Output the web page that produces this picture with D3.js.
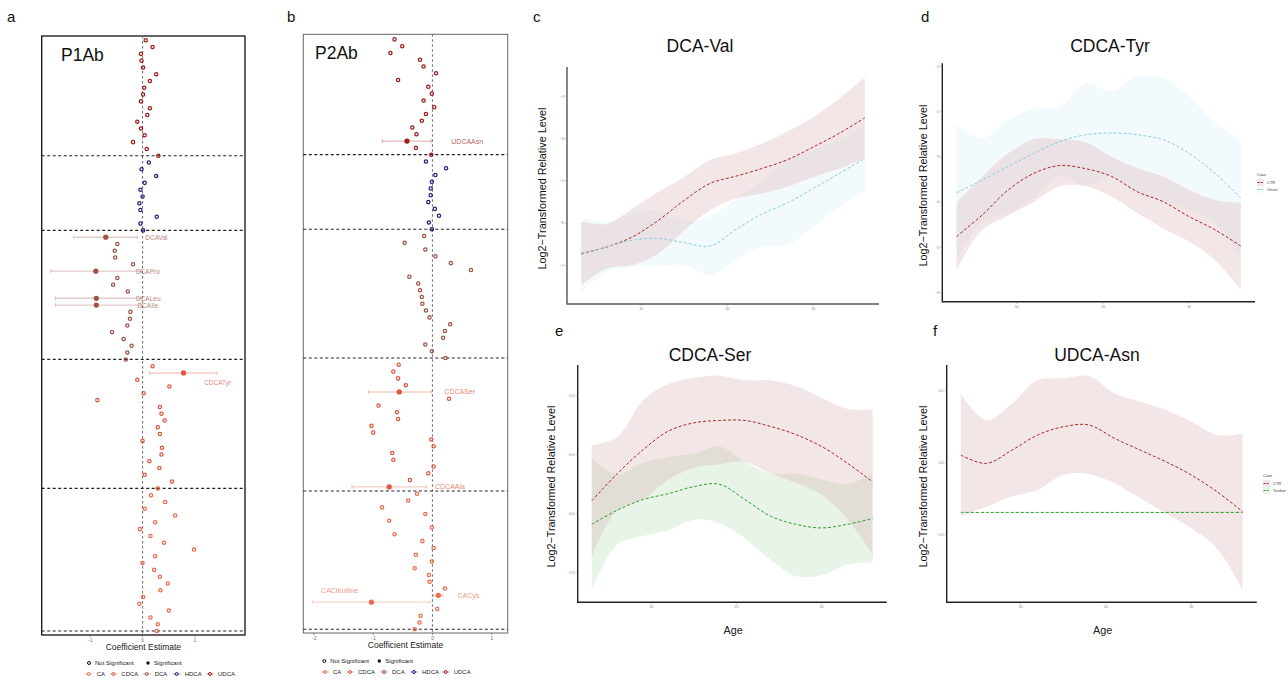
<!DOCTYPE html>
<html>
<head>
<meta charset="utf-8">
<script src="https://cdn.jsdelivr.net/npm/d3@7"></script>
<style>
  body { margin: 0; background: #fff; }
  svg { font-family: "Liberation Sans", Arial, Helvetica, sans-serif; }
</style>
</head>
<body>
<svg id="fig" width="1288" height="682"></svg>
<script>
// ---------- forest data (top to bottom inside each group) ----------
const groupOrder = ["UDCA", "HDCA", "DCA", "CDCA", "CA"];
const legendOrder = ["CA", "CDCA", "DCA", "HDCA", "UDCA"];

const p1UDCA = [0.06, 0.19, -0.03, -0.02, 0.01, 0.26, 0.14, 0.03, 0.01, -0.03, 0.14, 0.09, -0.10, -0.03, 0.04, -0.18, 0.08, 0.30];
const p1HDCA = [0.12, -0.02, 0.26, 0.04, -0.04, 0.0, -0.06, -0.04, 0.27, -0.04, 0.01];
const p1DCA = [-0.70, -0.48, -0.53, -0.52, -0.18, -0.89, -0.48, -0.56, -0.28, -0.88, -0.88, -0.23, -0.24, -0.29, -0.58, -0.36, -0.21, -0.29, -0.32];
const p1CDCA = [0.19, 0.78, -0.10, 0.51, 0.02, -0.86, 0.33, 0.36, 0.42, 0.29, 0.33, 0.0, 0.37, 0.36, 0.13, 0.32, 0.04, 0.56, 0.29];
const p1CA = [0.16, 0.43, 0.04, 0.62, 0.24, -0.05, 0.15, 0.41, 0.98, 0.24, 0.0, 0.22, 0.33, 0.48, 0.34, 0.01, -0.06, 0.50, 0.15, 0.29, 0.27];
const p1Sig = [
  { group: "DCA", idx: 0, name: "DCAVal", lo: -1.31, hi: -0.10 },
  { group: "DCA", idx: 5, name: "DCAPro", lo: -1.75, hi: -0.03 },
  { group: "DCA", idx: 9, name: "DCALeu", lo: -1.66, hi: -0.03 },
  { group: "DCA", idx: 10, name: "DCAIle", lo: -1.66, hi: -0.03 },
  { group: "CDCA", idx: 1, name: "CDCATyr", lo: 0.13, hi: 1.42 },
];
const p1Seps = [1, 22, 41, 60, 71];

const p2UDCA = [-0.64, -0.51, -0.71, -0.21, -0.15, 0.06, -0.58, -0.07, -0.01, -0.15, 0.03, -0.11, -0.18, -0.34, -0.27, -0.43, -0.28, -0.02];
const p2HDCA = [-0.11, 0.23, 0.05, -0.01, -0.03, -0.03, -0.07, 0.04, 0.11, -0.06, -0.01];
const p2DCA = [-0.14, -0.47, -0.12, 0.05, 0.31, 0.65, -0.39, -0.24, -0.21, -0.18, -0.17, -0.11, -0.05, 0.30, 0.21, 0.18, -0.12, -0.01, 0.22];
const p2CDCA = [-0.57, -0.66, -0.58, -0.45, -0.56, 0.28, -0.91, -0.60, -0.58, -1.03, -1.00, -0.02, 0.02, -0.68, -0.66, 0.02, -0.07, -0.38, -0.73];
const p2CA = [-0.26, -0.41, -0.85, -0.12, -0.73, -0.01, -0.64, -0.17, 0.02, -0.28, -0.01, -0.30, -0.06, -0.05, 0.21, 0.10, -1.03, 0.08, -0.20, -0.22, -0.30];
const p2Sig = [
  { group: "UDCA", idx: 15, name: "UDCAAsn", lo: -0.85, hi: -0.02 },
  { group: "CDCA", idx: 4, name: "CDCASer", lo: -1.08, hi: -0.02 },
  { group: "CDCA", idx: 18, name: "CDCAAla", lo: -1.36, hi: -0.10 },
  { group: "CA", idx: 15, name: "CACys", lo: 0.02, hi: 0.17 },
  { group: "CA", idx: 16, name: "CACitrulline", lo: -2.02, hi: -0.04 },
];
const p2Seps = [1, 21.4, 41, 60, 71];

// ---------- smooth curves (age vs log2 level) ----------
const ages = [3, 6, 9, 12, 15, 18, 21, 24, 27, 30, 33, 36];

const valCtr = [-6.72, -6.56, -6.32, -5.93, -5.46, -5.06, -4.89, -4.71, -4.50, -4.20, -3.88, -3.51];
const valCtrLo = [-7.46, -7.07, -6.99, -6.72, -6.17, -5.69, -5.42, -5.30, -5.14, -4.91, -4.71, -4.47];
const valCtrHi = [-5.96, -6.02, -5.65, -5.26, -4.91, -4.51, -4.35, -4.12, -3.84, -3.49, -3.06, -2.56];
const valCase = [-6.74, -6.56, -6.40, -6.36, -6.46, -6.54, -6.15, -5.79, -5.52, -5.18, -4.83, -4.47];
const valCaseLo = [-7.62, -7.15, -7.03, -7.02, -6.99, -7.23, -6.87, -6.56, -6.52, -6.09, -5.61, -5.26];
const valCaseHi = [-5.86, -5.97, -5.77, -5.71, -5.94, -5.84, -5.43, -5.02, -4.52, -4.28, -4.04, -3.69];

const tyrCtr = [-4.76, -4.28, -3.73, -3.36, -3.19, -3.26, -3.43, -3.77, -3.99, -4.32, -4.61, -4.97];
const tyrCtrLo = [-5.50, -4.61, -4.30, -3.99, -3.65, -3.65, -3.88, -4.24, -4.58, -4.87, -5.28, -5.94];
const tyrCtrHi = [-4.01, -3.43, -2.92, -2.61, -2.61, -2.68, -2.99, -3.25, -3.43, -3.73, -3.95, -4.01];
const tyrCase = [-3.79, -3.51, -3.21, -2.92, -2.66, -2.51, -2.47, -2.51, -2.62, -2.92, -3.36, -3.91];
const tyrCaseLo = [-5.28, -4.43, -4.24, -3.89, -3.42, -3.65, -3.40, -3.80, -3.99, -4.17, -4.47, -5.20];
const tyrCaseHi = [-2.29, -2.59, -2.18, -1.94, -1.90, -1.37, -1.55, -1.22, -1.26, -1.66, -2.25, -2.62];

const serCtr = [-6.39, -6.16, -5.96, -5.80, -5.73, -5.71, -5.71, -5.76, -5.83, -5.93, -6.07, -6.23];
const serCtrLo = [-6.86, -6.47, -6.38, -6.21, -6.11, -6.08, -6.06, -6.16, -6.24, -6.34, -6.54, -6.85];
const serCtrHi = [-5.92, -5.85, -5.54, -5.40, -5.35, -5.33, -5.37, -5.37, -5.42, -5.52, -5.61, -5.62];
const serCase = [-6.59, -6.47, -6.38, -6.33, -6.27, -6.25, -6.38, -6.52, -6.59, -6.62, -6.59, -6.54];
const serCaseLo = [-7.15, -6.76, -6.69, -6.64, -6.55, -6.58, -6.71, -6.89, -7.03, -7.02, -6.93, -6.91];
const serCaseHi = [-6.03, -6.17, -6.07, -6.02, -5.99, -5.93, -6.06, -6.16, -6.16, -6.21, -6.25, -6.16];

const asnCtr = [0.053, -0.005, 0.087, 0.191, 0.248, 0.260, 0.168, 0.087, 0.007, -0.085, -0.200, -0.338];
const asnCtrLo = [-0.368, -0.303, -0.234, -0.188, -0.085, -0.078, -0.143, -0.246, -0.349, -0.453, -0.591, -0.878];
const asnCtrHi = [0.474, 0.294, 0.409, 0.570, 0.582, 0.598, 0.478, 0.421, 0.363, 0.283, 0.191, 0.202];
const asnCase = [-0.343, -0.343, -0.343, -0.343, -0.343, -0.343, -0.343, -0.343, -0.343, -0.343, -0.343, -0.343];
const asnCaseLo = [-0.347, -0.347, -0.347, -0.347, -0.347, -0.347, -0.347, -0.347, -0.347, -0.347, -0.347, -0.347];
const asnCaseHi = [-0.339, -0.339, -0.339, -0.339, -0.339, -0.339, -0.339, -0.339, -0.339, -0.339, -0.339, -0.339];

// ---------- styles ----------
const groupColors = {
  CA: "#ee6a50",
  CDCA: "#de5740",
  DCA: "#9c5448",
  HDCA: "#23237e",
  UDCA: "#a01a1a",
};
const ctrLine = "#a52a2a";
const ctrFill = "#d4a5a5";

const svg = d3.select("#fig");

function panelLetter(t, x, y) {
  svg.append("text").attr("x", x).attr("y", y).attr("font-size", 15).attr("fill", "#111").text(t);
}

// label offsets (px) from the right end of the CI bar
const labelNudge = {
  DCAVal: [8, 2.5], DCAPro: [-5, 2.5], DCALeu: [-5, 2.5], DCAIle: [-3.5, 2.5], CDCATyr: [-13, 12.5],
  UDCAAsn: [20, 2.5], CDCASer: [13, 2.5], CDCAAla: [8.5, 2.5], CACys: [15, 2.5], CACitrulline: [-109, -9.5],
};

function drawForest(cfg) {
  const x = d3.scaleLinear().domain(cfg.xDomain).range([cfg.x0, cfg.x1]);
  const y = d3.scaleLinear().domain(cfg.yDomain).range([cfg.y1, cfg.y0]);
  const total = groupOrder.reduce((s, g) => s + cfg.data[g].length, 0);
  const rows = [];
  let k = total;
  groupOrder.forEach((g) => cfg.data[g].forEach((v, i) => rows.push({ group: g, idx: i, est: v, k: k-- })));
  const sigKey = new Map(cfg.sig.map((s) => [s.group + ":" + s.idx, s]));
  rows.forEach((r) => (r.sig = sigKey.get(r.group + ":" + r.idx) || null));

  const g = svg.append("g");
  g.append("rect")
    .attr("x", cfg.x0).attr("y", cfg.y0)
    .attr("width", cfg.x1 - cfg.x0).attr("height", cfg.y1 - cfg.y0)
    .attr("fill", "none").attr("stroke", cfg.boxColor).attr("stroke-width", cfg.boxWidth);

  // zero line
  g.append("line")
    .attr("x1", x(0)).attr("x2", x(0)).attr("y1", cfg.y0).attr("y2", cfg.y1)
    .attr("stroke", "#777").attr("stroke-width", 1.1).attr("stroke-dasharray", "2.5,2.5");

  // group separators
  g.selectAll("line.sep").data(cfg.seps).enter().append("line")
    .attr("x1", cfg.x0).attr("x2", cfg.x1)
    .attr("y1", (d) => y(d)).attr("y2", (d) => y(d))
    .attr("stroke", "#222").attr("stroke-width", 1.1).attr("stroke-dasharray", "3,2.5");

  // CI bars
  const sigRows = rows.filter((r) => r.sig);
  sigRows.forEach((r) => {
    const c = groupColors[r.group];
    const yy = y(r.k);
    g.append("line").attr("x1", x(r.sig.lo)).attr("x2", x(r.sig.hi)).attr("y1", yy).attr("y2", yy)
      .attr("stroke", c).attr("stroke-opacity", 0.3).attr("stroke-width", 1.4);
    [r.sig.lo, r.sig.hi].forEach((v) =>
      g.append("line").attr("x1", x(v)).attr("x2", x(v)).attr("y1", yy - 2).attr("y2", yy + 2)
        .attr("stroke", c).attr("stroke-opacity", 0.35).attr("stroke-width", 0.9));
  });

  // points
  rows.forEach((r) => {
    const c = groupColors[r.group];
    g.append("circle").attr("cx", x(r.est)).attr("cy", y(r.k))
      .attr("r", r.sig ? 2 : 1.65)
      .attr("fill", r.sig ? c : "none")
      .attr("stroke", c).attr("stroke-width", 1.25);
  });

  // labels
  sigRows.forEach((r) => {
    const nd = labelNudge[r.sig.name];
    g.append("text").attr("x", x(r.sig.hi) + nd[0]).attr("y", y(r.k) + nd[1])
      .attr("font-size", cfg.labelSize).attr("fill", groupColors[r.group]).attr("fill-opacity", 0.75)
      .text(r.sig.name);
  });

  // axis ticks
  cfg.xTicks.forEach((t) => {
    g.append("line").attr("x1", x(t)).attr("x2", x(t)).attr("y1", cfg.y1).attr("y2", cfg.y1 + 2)
      .attr("stroke", "#555").attr("stroke-width", 0.6);
    g.append("text").attr("x", x(t)).attr("y", cfg.y1 + 7).attr("text-anchor", "middle")
      .attr("font-size", 4.5).attr("fill", "#666").text(d3.format("d")(t).replace("-", "\u2212"));
  });
  const mid = (cfg.x0 + cfg.x1) / 2;
  g.append("text").attr("x", mid).attr("y", cfg.y1 + 15).attr("text-anchor", "middle")
    .attr("font-size", 8.5).attr("fill", "#222").text("Coefficient Estimate");

  g.append("text").attr("x", cfg.titleX).attr("y", cfg.y0 + 25).attr("font-size", 17.5).attr("fill", "#111").text(cfg.title);

  // legend
  const ly1 = cfg.y1 + 30, ly2 = cfg.y1 + 41;
  const lg = g.append("g").attr("font-size", 6).attr("fill", "#222");
  lg.append("circle").attr("cx", cfg.leg1[0]).attr("cy", ly1 - 2).attr("r", 1.5).attr("fill", "none").attr("stroke", "#111").attr("stroke-width", 1);
  lg.append("text").attr("x", cfg.leg1[0] + 6).attr("y", ly1).text("Not Significant");
  lg.append("circle").attr("cx", cfg.leg1[1]).attr("cy", ly1 - 2).attr("r", 1.7).attr("fill", "#111");
  lg.append("text").attr("x", cfg.leg1[1] + 6).attr("y", ly1).text("Significant");
  legendOrder.forEach((name, i) => {
    const cx = cfg.leg2[i];
    const c = groupColors[name];
    lg.append("line").attr("x1", cx - 4).attr("x2", cx + 4).attr("y1", ly2 - 2).attr("y2", ly2 - 2)
      .attr("stroke", c).attr("stroke-opacity", 0.45).attr("stroke-width", 1);
    lg.append("circle").attr("cx", cx).attr("cy", ly2 - 2).attr("r", 1.5).attr("fill", "none").attr("stroke", c).attr("stroke-width", 1);
    lg.append("text").attr("x", cx + 8).attr("y", ly2).text(name);
  });
}

drawForest({
  x0: 41.7, x1: 245, y0: 36, y1: 635,
  xDomain: [-1.92, 1.95], yDomain: [0.41, 88.63],
  data: { UDCA: p1UDCA, HDCA: p1HDCA, DCA: p1DCA, CDCA: p1CDCA, CA: p1CA },
  sig: p1Sig, seps: p1Seps, xTicks: [-1, 0, 1],
  title: "P1Ab", titleX: 61, boxColor: "#111", boxWidth: 1.3, labelSize: 6.5,
  leg1: [89, 148], leg2: [88.7, 113.3, 146.7, 176.7, 210],
});

drawForest({
  x0: 303.3, x1: 507.7, y0: 34.3, y1: 633,
  xDomain: [-2.18, 1.27], yDomain: [0.45, 88.75],
  data: { UDCA: p2UDCA, HDCA: p2HDCA, DCA: p2DCA, CDCA: p2CDCA, CA: p2CA },
  sig: p2Sig, seps: p2Seps, xTicks: [-2, -1, 0, 1],
  title: "P2Ab", titleX: 315, boxColor: "#666", boxWidth: 1, labelSize: 7,
  leg1: [324.3, 379.3], leg2: [325, 350, 384, 414, 445.7],
});

panelLetter("a", 7, 22);
panelLetter("b", 287, 22);

// ---------- smooth panels ----------
function drawSmooth(cfg) {
  const x = d3.scaleLinear().domain([1.35, 37.65]).range([cfg.x0, cfg.x1]);
  const y = d3.scaleLinear().domain(cfg.yDomain).range([cfg.y1, cfg.y0]);
  const g = svg.append("g");
  const curve = d3.curveCatmullRom.alpha(0.5);

  const band = (lo, hi) => d3.area().curve(curve)
    .x((d, i) => x(ages[i])).y0((d, i) => y(lo[i])).y1((d, i) => y(hi[i]))(ages);
  const line = (v) => d3.line().curve(curve).x((d, i) => x(ages[i])).y((d, i) => y(v[i]))(ages);

  g.append("path").attr("d", band(cfg.caseLo, cfg.caseHi)).attr("fill", cfg.caseFill).attr("fill-opacity", cfg.caseAlpha);
  g.append("path").attr("d", band(cfg.ctrLo, cfg.ctrHi)).attr("fill", ctrFill).attr("fill-opacity", 0.28);
  g.append("path").attr("d", line(cfg.ctr)).attr("fill", "none").attr("stroke", ctrLine)
    .attr("stroke-width", 1).attr("stroke-dasharray", "3,2");
  g.append("path").attr("d", line(cfg.case)).attr("fill", "none").attr("stroke", cfg.caseColor)
    .attr("stroke-width", 1).attr("stroke-dasharray", "3,2");

  // axes
  g.append("path").attr("d", `M${cfg.x0},${cfg.y0}V${cfg.y1}H${cfg.x1}`)
    .attr("fill", "none").attr("stroke", cfg.axisColor).attr("stroke-width", 1.4);
  cfg.yTicks.forEach((t) => {
    g.append("line").attr("x1", cfg.x0 - 2).attr("x2", cfg.x0).attr("y1", y(t)).attr("y2", y(t)).attr("stroke", "#777").attr("stroke-width", 0.5);
    g.append("text").attr("x", cfg.x0 - 3).attr("y", y(t) + 1.3).attr("text-anchor", "end")
      .attr("font-size", 3.8).attr("fill", "#888").text(cfg.yFmt(t));
  });
  [10, 20, 30].forEach((t) => {
    g.append("line").attr("x1", x(t)).attr("x2", x(t)).attr("y1", cfg.y1).attr("y2", cfg.y1 + 2).attr("stroke", "#777").attr("stroke-width", 0.5);
    g.append("text").attr("x", x(t)).attr("y", cfg.y1 + 6).attr("text-anchor", "middle")
      .attr("font-size", 3.8).attr("fill", "#888").text(t);
  });

  g.append("text").attr("x", cfg.titleX).attr("y", cfg.titleY).attr("text-anchor", "middle")
    .attr("font-size", 17.5).attr("fill", "#111").text(cfg.title);
  g.append("text")
    .attr("transform", `translate(${cfg.ylabX},${(cfg.y0 + cfg.y1) / 2 + 3}) rotate(-90)`)
    .attr("text-anchor", "middle").attr("font-size", 10.8).attr("fill", "#111")
    .text("Log2\u2212Transformed Relative Level");
  if (cfg.xlab) {
    g.append("text").attr("x", (cfg.x0 + cfg.x1) / 2 + 1).attr("y", cfg.y1 + 32).attr("text-anchor", "middle")
      .attr("font-size", 10.8).attr("fill", "#222").text("Age");
  }
  if (cfg.legend) {
    const lx = cfg.legend.x, ly = cfg.legend.y;
    const lg = g.append("g").attr("font-size", 4).attr("fill", "#444");
    lg.append("text").attr("x", lx).attr("y", ly).text("Case");
    [["CTR", ctrFill, 0.28, ctrLine], [cfg.legend.caseName, cfg.caseFill, cfg.caseAlpha, cfg.caseColor]].forEach((it, i) => {
      const yy = ly + 3 + i * 7;
      lg.append("rect").attr("x", lx).attr("y", yy).attr("width", 7).attr("height", 7).attr("fill", it[1]).attr("fill-opacity", it[2]);
      lg.append("line").attr("x1", lx + 0.5).attr("x2", lx + 6.5).attr("y1", yy + 3.5).attr("y2", yy + 3.5)
        .attr("stroke", it[3]).attr("stroke-width", 1).attr("stroke-dasharray", "2,1.2");
      lg.append("text").attr("x", lx + 10).attr("y", yy + 5).text(it[0]);
    });
  }
}

const minus = (s) => s.replace("-", "\u2212");

drawSmooth({
  x0: 567, x1: 879, y0: 67, y1: 304, yDomain: [-7.91, -2.31],
  yTicks: [-3, -4, -5, -6, -7], yFmt: (t) => minus(d3.format("d")(t)),
  ctr: valCtr, ctrLo: valCtrLo, ctrHi: valCtrHi,
  case: valCase, caseLo: valCaseLo, caseHi: valCaseHi,
  caseColor: "#86d0e0", caseFill: "#d6eef9", caseAlpha: 0.3,
  title: "DCA-Val", titleX: 700, titleY: 52, ylabX: 546, axisColor: "#555", xlab: false,
});

drawSmooth({
  x0: 942.3, x1: 1255, y0: 63.3, y1: 301.7, yDomain: [-6.2, -0.93],
  yTicks: [-1, -2, -3, -4, -5, -6], yFmt: (t) => minus(d3.format("d")(t)),
  ctr: tyrCtr, ctrLo: tyrCtrLo, ctrHi: tyrCtrHi,
  case: tyrCase, caseLo: tyrCaseLo, caseHi: tyrCaseHi,
  caseColor: "#86d0e0", caseFill: "#d6eef9", caseAlpha: 0.3,
  title: "CDCA-Tyr", titleX: 1110, titleY: 52, ylabX: 927, axisColor: "#222", xlab: false,
  legend: { x: 1257, y: 176, caseName: "Onset" },
});

drawSmooth({
  x0: 577.7, x1: 886.7, y0: 365, y1: 602.3, yDomain: [-7.25, -5.24],
  yTicks: [-5.5, -6.0, -6.5, -7.0], yFmt: (t) => minus(d3.format(".1f")(t)),
  ctr: serCtr, ctrLo: serCtrLo, ctrHi: serCtrHi,
  case: serCase, caseLo: serCaseLo, caseHi: serCaseHi,
  caseColor: "#2ca02c", caseFill: "#8cc78c", caseAlpha: 0.2,
  title: "CDCA-Ser", titleX: 710, titleY: 361, ylabX: 555, axisColor: "#222", xlab: true,
});

drawSmooth({
  x0: 946.7, x1: 1256.7, y0: 365, y1: 602.3, yDomain: [-0.963, 0.674],
  yTicks: [0.5, 0.0, -0.5], yFmt: (t) => minus(d3.format(".1f")(t)),
  ctr: asnCtr, ctrLo: asnCtrLo, ctrHi: asnCtrHi,
  case: asnCase, caseLo: asnCaseLo, caseHi: asnCaseHi,
  caseColor: "#2ca02c", caseFill: "#8cc78c", caseAlpha: 0.2,
  title: "UDCA-Asn", titleX: 1097, titleY: 361, ylabX: 927, axisColor: "#222", xlab: true,
  legend: { x: 1263, y: 477, caseName: "Tardive" },
});

panelLetter("c", 533, 22);
panelLetter("d", 921, 22);
panelLetter("e", 555, 336);
panelLetter("f", 933, 336);
</script>
</body>
</html>
